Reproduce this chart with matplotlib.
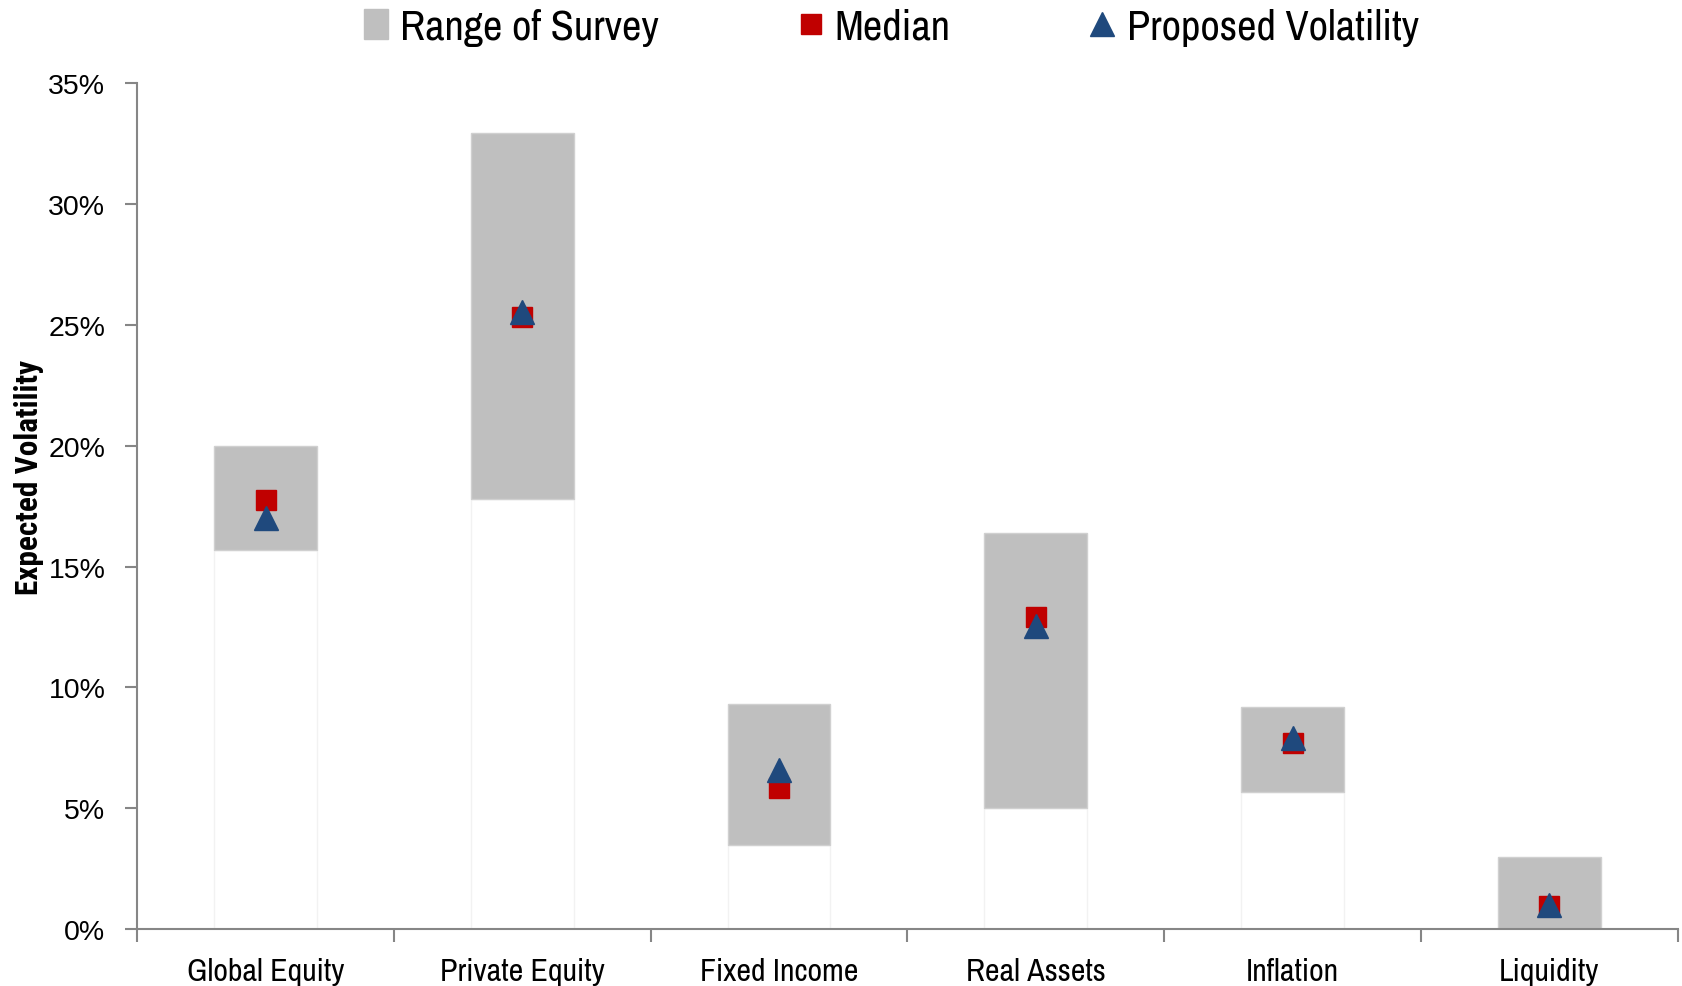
import matplotlib
matplotlib.use("Agg")
import matplotlib.pyplot as plt
from matplotlib.lines import Line2D
from matplotlib.patches import Patch
import numpy as np

categories = ["Global Equity", "Private Equity", "Fixed Income", "Real Assets", "Inflation", "Liquidity"]
range_low = [15.7, 17.8, 3.5, 5.0, 5.7, 0.0]
range_high = [20.0, 32.9, 9.3, 16.4, 9.2, 3.0]
median = [17.75, 25.3, 5.85, 12.9, 7.7, 0.98]
proposed = [17.0, 25.5, 6.6, 12.55, 7.9, 1.0]
yticks = [0, 5, 10, 15, 20, 25, 30, 35]

narrow = ["Archivo Narrow", "DejaVu Sans"]
narrow_bold = ["Roboto Condensed", "DejaVu Sans"]
regular = ["Liberation Sans", "DejaVu Sans"]

fig = plt.figure(figsize=(16.83, 9.87), dpi=100)
ax = fig.add_axes([0.0816, 0.0573, 0.9152, 0.858])

x = np.arange(len(categories))
low = np.array(range_low)
high = np.array(range_high)
ax.bar(x, low, width=0.4, color="white", edgecolor="#f2f2f2", linewidth=1, zorder=1)
ax.bar(x, high - low, bottom=low, width=0.4, color="#BFBFBF", edgecolor="#d0d0d0", linewidth=1, zorder=2)
ax.plot(x, median, linestyle="none", marker="s", markersize=14, color="#C00000", zorder=3)
ax.plot(x, proposed, linestyle="none", marker="^", markersize=17, color="#1F497D", zorder=4)

ax.set_xlim(-0.5, len(categories) - 0.5)
ax.set_ylim(0, 35)
ax.set_yticks(yticks)
ax.set_yticklabels([f"{t}%" for t in yticks], fontsize=20.5, family=regular)
ax.set_xticks(x)
ax.set_xticklabels(categories, fontsize=23, family=narrow)
ax.set_xticks(np.arange(len(categories) + 1) - 0.5, minor=True)
ax.tick_params(axis="x", which="major", length=0, pad=20)
ax.tick_params(axis="x", which="minor", length=9, color="#868686", width=1.5, direction="out")
ax.tick_params(axis="y", length=9, color="#868686", width=1.5, direction="out", pad=14)

for s in ["top", "right"]:
    ax.spines[s].set_visible(False)
for s in ["left", "bottom"]:
    ax.spines[s].set_color("#868686")
    ax.spines[s].set_linewidth(1.5)

ax.set_ylabel("Expected Volatility", fontsize=22.5, family=narrow_bold, fontweight="bold")
ax.yaxis.label.set_va("center")
ax.yaxis.set_label_coords((29 - 137.4) / (0.9152 * 1683), 0.535)

handles = [
    Patch(facecolor="#BFBFBF", edgecolor="#BFBFBF", label="Range of Survey"),
    Line2D([], [], linestyle="none", marker="s", markersize=14, color="#C00000", label="Median"),
    Line2D([], [], linestyle="none", marker="^", markersize=17, color="#1F497D", label="Proposed Volatility"),
]
leg = fig.legend(handles=handles, loc="center", bbox_to_anchor=(0.5297, 0.972), ncol=3, frameon=False,
                 prop={"family": narrow, "size": 30.5}, columnspacing=3.3, handlelength=0.55,
                 handletextpad=0.3, handleheight=0.7, borderpad=0)

fig.savefig("out.png", dpi=100)
